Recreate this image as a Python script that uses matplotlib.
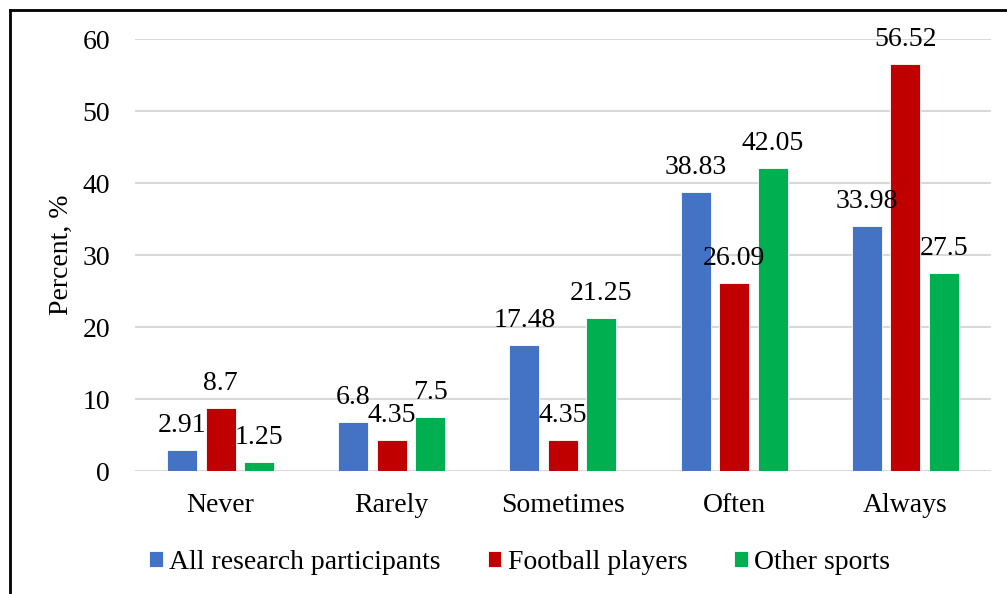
import matplotlib.pyplot as plt
import numpy as np
from matplotlib.lines import Line2D

categories = ["Never", "Rarely", "Sometimes", "Often", "Always"]
series_names = ["All research participants", "Football players", "Other sports"]
all_participants = [2.91, 6.8, 17.48, 38.83, 33.98]
football_players = [8.7, 4.35, 4.35, 26.09, 56.52]
other_sports = [1.25, 7.5, 21.25, 42.05, 27.5]
value_labels = [
    ["2.91", "6.8", "17.48", "38.83", "33.98"],
    ["8.7", "4.35", "4.35", "26.09", "56.52"],
    ["1.25", "7.5", "21.25", "42.05", "27.5"],
]
colors = ["#4472C4", "#C00000", "#00B050"]
y_ticks = [0, 10, 20, 30, 40, 50, 60]

plt.rcParams["font.family"] = ["Liberation Serif", "DejaVu Serif"]
FS = 20

fig = plt.figure(figsize=(10.07, 5.94), dpi=100)
ax = fig.add_axes([0.134, 0.207, 0.850, 0.727])

x = np.arange(len(categories))
width = 0.175
step = 0.225
series = [all_participants, football_players, other_sports]
for i, (vals, name, col) in enumerate(zip(series, series_names, colors)):
    pos = x + (i - 1) * step
    bars = ax.bar(pos, vals, width, color=col, label=name,
                  edgecolor="white", linewidth=0.6, zorder=3)
    for b, txt in zip(bars, value_labels[i]):
        ax.annotate(txt, (b.get_x() + b.get_width() / 2, b.get_height()),
                    xytext=(0, 13), textcoords="offset points",
                    ha="center", va="baseline", fontsize=FS, color="black",
                    zorder=4)

ax.set_xlim(-0.5, len(categories) - 0.5)
ax.set_ylim(0, 60)
ax.set_yticks(y_ticks)
ax.set_xticks(x)
ax.set_xticklabels(categories)
ax.tick_params(axis="both", length=0, labelsize=FS, colors="black")
ax.tick_params(axis="y", pad=18)
ax.tick_params(axis="x", pad=16)
ax.set_ylabel("Percent, %", fontsize=FS, labelpad=6)
ax.grid(axis="y", color="#D9D9D9", linewidth=1.5, zorder=0)
ax.set_axisbelow(True)
for s in ax.spines.values():
    s.set_visible(False)

handles, labels = ax.get_legend_handles_labels()
fig.legend(handles, labels, loc="center", bbox_to_anchor=(0.516, 0.053),
           ncol=3, frameon=False, fontsize=FS, handlelength=0.5,
           handleheight=0.5, handletextpad=0.22, columnspacing=1.7)

# outer frame
fig.add_artist(Line2D([9.5 / 1007, 9.5 / 1007], [0, 1 - 10 / 594],
                      transform=fig.transFigure, color="black", linewidth=2))
fig.add_artist(Line2D([9.5 / 1007, 1], [1 - 10 / 594, 1 - 10 / 594],
                      transform=fig.transFigure, color="black", linewidth=2))

fig.savefig("out.png", dpi=100)
